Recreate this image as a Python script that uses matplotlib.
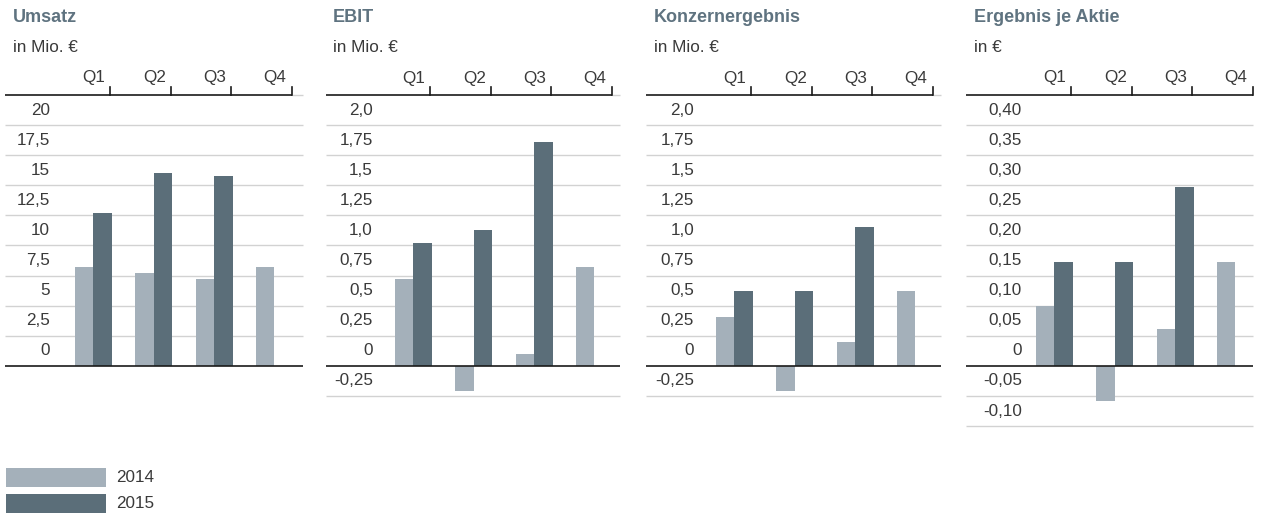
import matplotlib
matplotlib.use('Agg')
import matplotlib.pyplot as plt
from matplotlib.patches import Rectangle
import numpy as np

plt.rcParams['font.family'] = ['Liberation Sans', 'DejaVu Sans']

# ---- data ----
quarters = ['Q1', 'Q2', 'Q3', 'Q4']
years = ['2014', '2015']

titles = ['Umsatz', 'EBIT', 'Konzernergebnis', 'Ergebnis je Aktie']
units = ['in Mio. €', 'in Mio. €', 'in Mio. €', 'in €']

umsatz_2014 = [8.25, 7.7, 7.2, 8.25]
umsatz_2015 = [12.7, 16.0, 15.75, np.nan]
ebit_2014 = [0.72, -0.21, 0.10, 0.82]
ebit_2015 = [1.02, 1.13, 1.86, np.nan]
konzern_2014 = [0.41, -0.21, 0.20, 0.62]
konzern_2015 = [0.62, 0.62, 1.15, np.nan]
eps_2014 = [0.10, -0.058, 0.061, 0.173]
eps_2015 = [0.173, 0.173, 0.297, np.nan]

umsatz_ticks = ['0', '2,5', '5', '7,5', '10', '12,5', '15', '17,5', '20']
ebit_ticks = ['-0,25', '0', '0,25', '0,5', '0,75', '1,0', '1,25', '1,5', '1,75', '2,0']
konzern_ticks = ['-0,25', '0', '0,25', '0,5', '0,75', '1,0', '1,25', '1,5', '1,75', '2,0']
eps_ticks = ['-0,10', '-0,05', '0', '0,05', '0,10', '0,15', '0,20', '0,25', '0,30', '0,35', '0,40']

series_2014 = [umsatz_2014, ebit_2014, konzern_2014, eps_2014]
series_2015 = [umsatz_2015, ebit_2015, konzern_2015, eps_2015]
tick_labels = [umsatz_ticks, ebit_ticks, konzern_ticks, eps_ticks]

# ---- style / layout (pixels) ----
W, H = 1263, 513
C14 = '#a4b0ba'
C15 = '#5b6e79'
TITLE_C = '#5f7380'
TEXT_C = '#3a3a3a'
GRID_C = '#d2d2d2'
LINE_C = '#1a1a1a'
FS = 12.3

offsets = [0, 320, 641, 961]
lefts = [5, 326, 646, 966]
rights = [303, 620, 941, 1253]
label_right = [50, 53, 53, 61]   # relative to panel offset
TOP = 95
ROW = 30.1       # px per band
SLOT = 60.4      # px per quarter
ORIGIN = 50      # px from panel offset to start of Q1 slot

fig = plt.figure(figsize=(W / 100, H / 100), dpi=100)
fig.patch.set_facecolor('white')

for p in range(4):
    ticks = [float(t.replace(',', '.')) for t in tick_labels[p]]
    step = ticks[1] - ticks[0]
    ymin, ymax = ticks[0], ticks[-1] + step
    bottom = TOP + ROW * len(ticks)
    origin = offsets[p] + ORIGIN
    ppu = ROW / step  # px per y unit

    ax = fig.add_axes([lefts[p] / W, 1 - bottom / H,
                       (rights[p] - lefts[p]) / W, (bottom - TOP) / H])
    x0 = (lefts[p] - origin) / SLOT
    x1 = (rights[p] - origin) / SLOT
    ax.set_xlim(x0, x1)
    ax.set_ylim(ymin, ymax)
    ax.axis('off')

    # horizontal rules
    for v in ticks:
        if abs(v) < 1e-9:
            ax.plot([x0, x1], [v, v], color=LINE_C, lw=1.2, zorder=4, clip_on=False,
                    solid_capstyle='butt')
        else:
            ax.plot([x0, x1], [v, v], color=GRID_C, lw=1.0, zorder=1, clip_on=False,
                    solid_capstyle='butt')
    ax.plot([x0, 4], [ymax, ymax], color=LINE_C, lw=1.2, clip_on=False,
            solid_capstyle='butt')
    ax.plot([4, x1], [ymax, ymax], color=GRID_C, lw=1.0, clip_on=False,
            solid_capstyle='butt')

    # row labels
    lx = (offsets[p] + label_right[p] - origin) / SLOT
    for v, lab in zip(ticks, tick_labels[p]):
        ax.text(lx, v + step / 2, lab, ha='right', va='center',
                fontsize=FS, color=TEXT_C)

    # quarter header with small ticks
    for i, q in enumerate(quarters):
        ax.plot([i + 1, i + 1], [ymax, ymax + 8 / ppu], color=LINE_C, lw=1.2,
                clip_on=False)
        ax.text(i + 1 - 5 / SLOT, ymax + 17 / ppu, q, ha='right', va='center',
                fontsize=FS, color=TEXT_C)

    # bars
    x = np.arange(len(quarters))
    v14 = np.array(series_2014[p], dtype=float)
    v15 = np.array(series_2015[p], dtype=float)
    m14 = ~np.isnan(v14)
    m15 = ~np.isnan(v15)
    ax.bar(x[m14] + 0.563, v14[m14], 0.306, color=C14, zorder=3)
    ax.bar(x[m15] + 0.869, v15[m15], 0.306, color=C15, zorder=3)

    # titles
    fig.text((offsets[p] + 13) / W, 1 - 18 / H, titles[p], ha='left', va='center',
             fontsize=13, fontweight='bold', color=TITLE_C)
    fig.text((offsets[p] + 13) / W, 1 - 48 / H, units[p], ha='left', va='center',
             fontsize=FS, color=TEXT_C)

# legend
for k, (yr, col) in enumerate(zip(years, [C14, C15])):
    ytop = 468 + 26 * k
    fig.add_artist(Rectangle((6 / W, 1 - (ytop + 19) / H), 100 / W, 19 / H,
                             transform=fig.transFigure, facecolor=col,
                             edgecolor='none'))
    fig.text(116 / W, 1 - (ytop + 9.5) / H, yr, ha='left', va='center',
             fontsize=FS, color=TEXT_C)

fig.savefig('out.png', dpi=100, facecolor='white')
